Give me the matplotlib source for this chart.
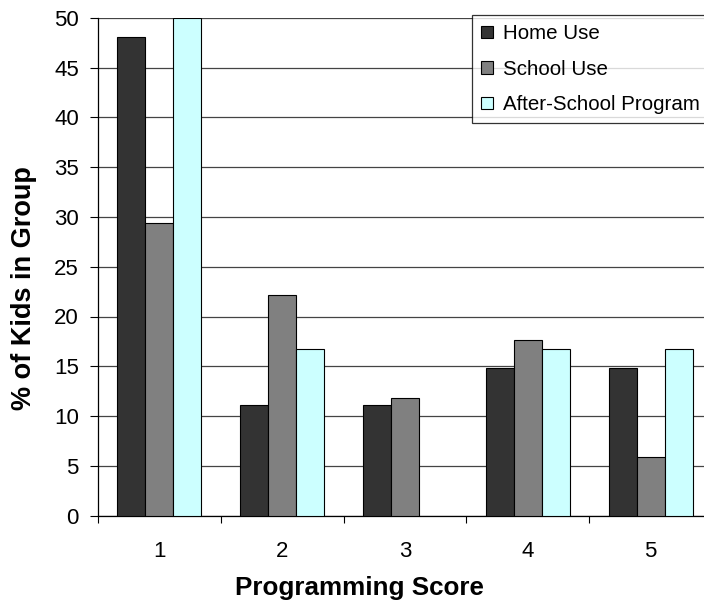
import matplotlib
matplotlib.use('Agg')
import matplotlib.pyplot as plt
import numpy as np

plt.rcParams['font.family'] = ['Liberation Sans', 'DejaVu Sans']

# ── 数据 ──────────────────────────────────────────────
scores = ['1', '2', '3', '4', '5']
home_use = [48.1, 11.1, 11.1, 14.8, 14.8]
school_use = [29.4, 22.2, 11.8, 17.6, 5.9]
after_school = [50.0, 16.7, 0.0, 16.7, 16.7]
series_names = ['Home Use', 'School Use', 'After-School Program']
colors = ['#333333', '#808080', '#CCFFFF']

fig = plt.figure(figsize=(7.04, 6.05), dpi=100)
# 右侧绘图区超出画布 (原图被裁切)
ax = fig.add_axes([98 / 704, 1 - 515.7 / 605, 614 / 704, 498 / 605])

x = np.arange(1, len(scores) + 1)
w = 0.228
for i, (vals, name, c) in enumerate(zip([home_use, school_use, after_school], series_names, colors)):
    lws = [0.8 if v > 0 else 0 for v in vals]  # 零值不画边框
    ax.bar(x + (i - 1) * w, vals, width=w, color=c, edgecolor='black',
           linewidth=lws, label=name, zorder=3)

ax.set_xlim(0.5, 5.5)
ax.set_ylim(0, 50)
ax.set_yticks(np.arange(0, 51, 5))
ax.yaxis.grid(True, color='#444444', linewidth=0.9, zorder=0)
ax.set_axisbelow(True)

# x 刻度线在类别边界, 标签在中心
ax.set_xticks(np.arange(0.5, 6.0, 1.0))
ax.set_xticklabels([])
ax.set_xticks(x, minor=True)
ax.set_xticklabels(scores, minor=True)
ax.tick_params(axis='x', which='major', direction='out', length=5, width=0.8, color='black')
ax.tick_params(axis='x', which='minor', length=0, pad=18, labelsize=16)
ax.tick_params(axis='y', direction='out', length=5.8, width=0.8, labelsize=16, pad=8)

for s in ['top', 'right']:
    ax.spines[s].set_visible(False)
ax.spines['left'].set_color('black')
ax.spines['bottom'].set_color('black')
ax.spines['left'].set_linewidth(0.9)
ax.spines['bottom'].set_linewidth(0.9)

# 轴标题 (原图未在绘图区居中)
ax.set_xlabel('Programming Score', fontsize=18.7, fontweight='bold')
ax.set_ylabel('% of Kids in Group', fontsize=19.5, fontweight='bold')
ax.xaxis.set_label_coords(0.425, -0.121)
ax.yaxis.set_label_coords(-0.099, 0.458)

leg = fig.legend(loc='upper left', bbox_to_anchor=(472 / 704, 1 - 15 / 605),
                 fontsize=14.8, frameon=True, fancybox=False, edgecolor='black',
                 handlelength=0.57, handleheight=0.57, handletextpad=0.49,
                 labelspacing=0.8, borderpad=0.45, borderaxespad=0)
leg.get_frame().set_linewidth(0.9)

fig.savefig('out.png', dpi=100, facecolor='white')
